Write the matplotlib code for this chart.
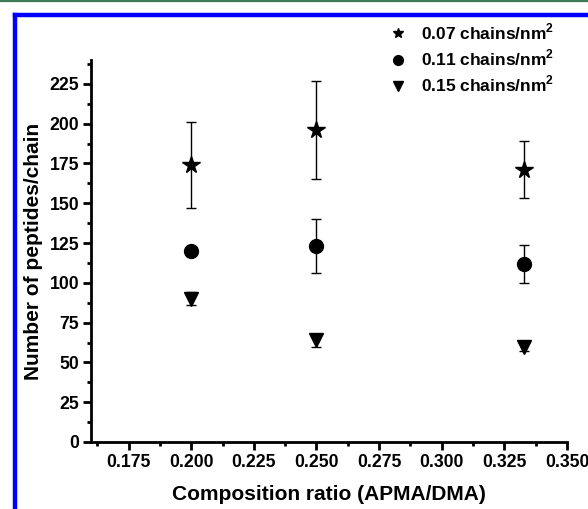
import numpy as np
import matplotlib
matplotlib.use('Agg')
import matplotlib.pyplot as plt
from matplotlib.lines import Line2D
from matplotlib.ticker import MultipleLocator

# Composition ratio (APMA/DMA)
ratio = [0.200, 0.250, 0.333]

# Peptides per chain for each grafting density, with error bars
pep_007 = [174, 196, 171]
err_007 = [27, 31, 18]
pep_011 = [120, 123, 112]
err_011 = [2, 17, 12]
pep_015 = [90, 64, 60]
err_015 = [4, 4, 3]

labels = ['0.07 chains/nm$^\\mathbf{2}$',
          '0.11 chains/nm$^\\mathbf{2}$',
          '0.15 chains/nm$^\\mathbf{2}$']

plt.rcParams['font.family'] = ['Liberation Sans', 'DejaVu Sans']
plt.rcParams['font.weight'] = 'bold'
plt.rcParams['mathtext.fontset'] = 'custom'
plt.rcParams['mathtext.bf'] = 'Liberation Sans:bold'
plt.rcParams['mathtext.rm'] = 'Liberation Sans:bold'

fig = plt.figure(figsize=(5.88, 5.09), dpi=100)
ax = fig.add_axes([91 / 588, 67 / 509, 476 / 588, 382 / 509])

series = [(pep_007, err_007, '*', 13),
          (pep_011, err_011, 'o', 10),
          (pep_015, err_015, 'v', 10)]
for vals, errs, mk, ms in series:
    ax.errorbar(ratio, vals, yerr=errs, fmt=mk, color='black', ms=ms,
                ecolor='black', elinewidth=1, capsize=3.5, capthick=1)

ax.set_xlim(0.16, 0.35)
ax.set_ylim(0, 240)
ax.xaxis.set_minor_locator(MultipleLocator(0.0125))
ax.yaxis.set_major_locator(MultipleLocator(25))
ax.yaxis.set_minor_locator(MultipleLocator(12.5))
xt = np.arange(0.175, 0.3501, 0.025)
ax.set_xticks(xt)
ax.set_xticklabels(['%.3f' % v for v in xt])

for side in ['top', 'right']:
    ax.spines[side].set_visible(False)
for side in ['left', 'bottom']:
    ax.spines[side].set_linewidth(2)
ax.tick_params(which='major', length=5.5, width=2, labelsize=12.7, pad=3)
ax.tick_params(which='minor', length=3, width=2)
for lab in ax.get_xticklabels() + ax.get_yticklabels():
    lab.set_fontweight('bold')

ax.set_xlabel('Composition ratio (APMA/DMA)', fontsize=15, fontweight='bold',
              labelpad=10)
ax.set_ylabel('Number of peptides/chain', fontsize=15, fontweight='bold',
              labelpad=5)

# Legend with small symbols, placed at the top right of the figure
handles = [Line2D([], [], ls='none', marker='*', ms=7, color='black'),
           Line2D([], [], ls='none', marker='o', ms=7, color='black'),
           Line2D([], [], ls='none', marker='v', ms=7, color='black')]
fig.legend(handles, labels, loc='upper left', bbox_to_anchor=(382 / 588, 1 - 15 / 509),
           frameon=False, prop={'size': 12.5, 'weight': 'bold'},
           handletextpad=0.75, labelspacing=0.32, handlelength=1.1,
           borderaxespad=0)

# Blue page frame and green rule at the top
fig.add_artist(Line2D([15 / 588, 15 / 588], [0, 1 - 15 / 509],
                      transform=fig.transFigure, color='#0000ff', lw=3.2,
                      solid_capstyle='projecting'))
fig.add_artist(Line2D([15 / 588, 1], [1 - 15 / 509, 1 - 15 / 509],
                      transform=fig.transFigure, color='#0000ff', lw=3.2,
                      solid_capstyle='projecting'))
fig.add_artist(Line2D([0, 1], [1 - 1 / 509, 1 - 1 / 509],
                      transform=fig.transFigure, color='#3f7a58', lw=1.6))

fig.savefig('out.png', dpi=100)
plt.close(fig)
